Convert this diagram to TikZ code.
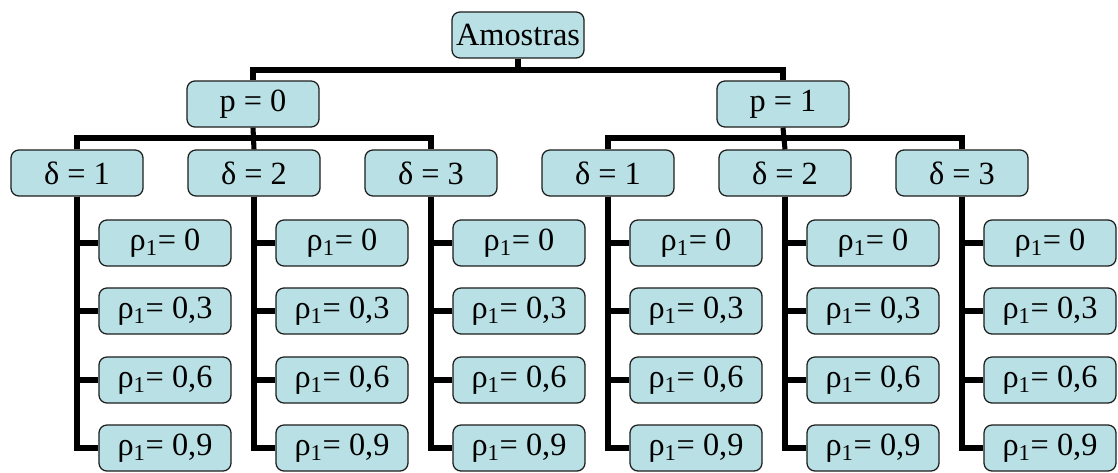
\documentclass[tikz,border=0pt]{standalone}
\usepackage{fontspec}
\setmainfont{Liberation Serif}
\newfontfamily\boxfont{Liberation Serif}
\usetikzlibrary{positioning}
\definecolor{BoxFill}{HTML}{B9E0E4}
\definecolor{BoxLine}{HTML}{1E1E1E}
\tikzset{
  tbox/.style={draw=BoxLine, line width=0.9pt, fill=BoxFill, rounded corners=2mm,
               minimum width=3.3cm, minimum height=1.15cm, inner sep=0pt,
               font=\boxfont\fontsize{23}{27}\selectfont},
  branch/.style={line width=3.6pt, draw=black},
}

\begin{document}
\begin{tikzpicture}[x=0.025cm, y=-0.025cm]
\useasboundingbox (0,0) rectangle (1118,473);
% ---------- root and the two p levels
\node[tbox] (am) at (518,35) {Amostras};
\node[tbox] (p0) at (253,104) {p = 0};
\node[tbox] (p1) at (783,104) {p = 1};
\coordinate (rb) at (518,70);
\draw[branch] (am.south) -- (rb);
\draw[branch] (p0.north) |- (rb) -| (p1.north);
% ---------- delta boxes with their rho lists
\foreach \i/\d in {0/1,1/2,2/3,3/1,4/2,5/3}{
  \node[tbox] (d\i) at (77+177*\i,173) {δ = \d};
  \foreach \j/\y/\v in {1/243/0,2/311/{0,3},3/380/{0,6},4/448/{0,9}}{
    \node[tbox] (r\i-\j) at (165+177*\i,\y) {ρ\textsubscript{1}= \v};
    \draw[branch] (d\i.south) |- (r\i-\j.west);
  }
}
% ---------- bars under p = 0 and p = 1
\coordinate (pb0) at (253,138);
\coordinate (pb1) at (783,138);
\draw[branch] (p0.south) -- (d1.north);
\draw[branch] (d0.north) |- (pb0) -| (d2.north);
\draw[branch] (p1.south) -- (d4.north);
\draw[branch] (d3.north) |- (pb1) -| (d5.north);
\end{tikzpicture}
\end{document}
